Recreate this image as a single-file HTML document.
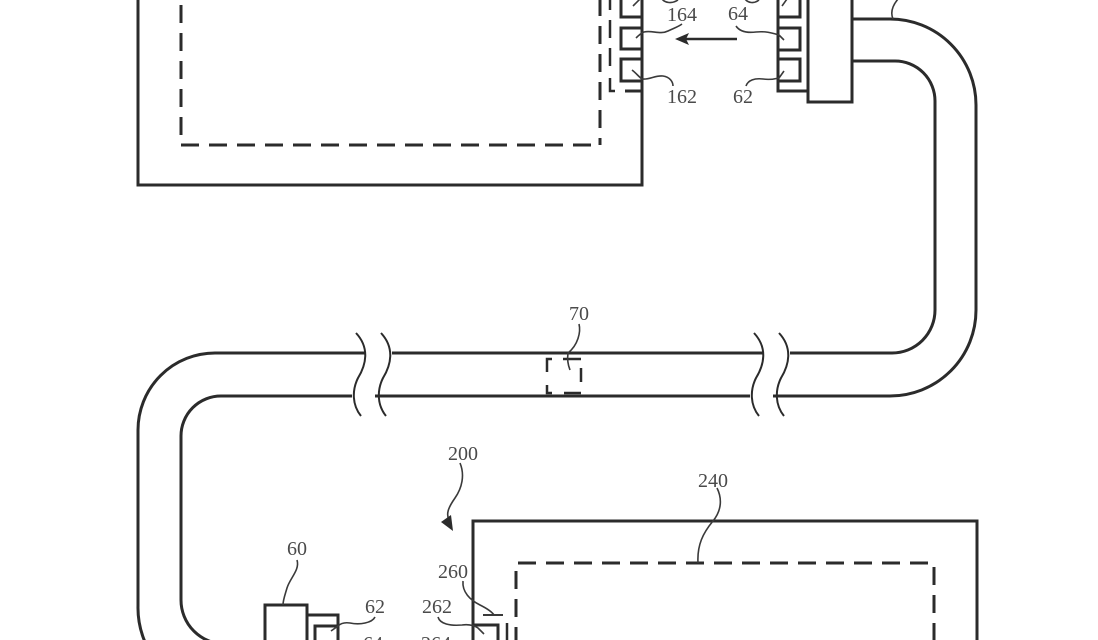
<!DOCTYPE html>
<html>
<head>
<meta charset="utf-8">
<style>
  html,body{margin:0;padding:0;background:#fff;}
  svg{display:block;}
  text{font-family:"Liberation Serif",serif;font-size:20px;fill:#4a4a4a;text-anchor:middle;}
</style>
</head>
<body>
<svg width="1098" height="640" viewBox="0 0 1098 640" xmlns="http://www.w3.org/2000/svg">
  <rect width="1098" height="640" fill="#fff"/>
  <g fill="none" stroke="#2b2b2b" stroke-width="3" stroke-linejoin="miter">
    <!-- Top device outer box -->
    <path d="M138,-5 L138,185 L642,185 L642,-5"/>
    <!-- Top device squares 162/164 -->
    <rect x="621" y="-4" width="21" height="21"/>
    <rect x="621" y="28" width="21" height="21"/>
    <rect x="621" y="59" width="21" height="22"/>
    <path d="M625,91 L642,91"/>
    <!-- Top connector 60 -->
    <path d="M808,-5 L808,102 L852,102 L852,-5"/>
    <path d="M778,-5 L778,91 L808,91"/>
    <rect x="778" y="-4" width="22" height="21"/>
    <rect x="778" y="28" width="22" height="22"/>
    <rect x="778" y="59" width="22" height="22"/>
    <!-- Cable outer path (top-right to mid lower line) -->
    <path d="M852,19 L890,19 A86,86 0 0 1 976,105 L976,310 A86,86 0 0 1 890,396 L773,396"/>
    <path d="M750,396 L375,396"/>
    <path d="M352,396 L221,396 A40,40 0 0 0 181,436 L181,600 A44,44 0 0 0 225,644"/>
    <!-- Cable inner path -->
    <path d="M852,61 L895,61 A40,40 0 0 1 935,101 L935,310 A43,43 0 0 1 892,353 L790,353"/>
    <path d="M764,353 L392,353"/>
    <path d="M366,353 L215,353 A77,77 0 0 0 138,430 L138,606 A86,86 0 0 0 145,642"/>
    <!-- Bottom device -->
    <path d="M473,645 L473,521 L977,521 L977,645"/>
    <path d="M473,645 L473,625 L498,625 L498,645"/>
    <!-- Bottom connector 60 -->
    <path d="M265,645 L265,605 L307,605 L307,645"/>
    <path d="M307,615 L338,615 L338,645"/>
    <path d="M315,645 L315,626 L337,626"/>
  </g>

  <!-- Break marks -->
  <g fill="none" stroke="#2b2b2b" stroke-width="2">
    <path d="M356,333 C370,348 366,365 358,378 C352,390 352,405 361,416"/>
    <path d="M381,333 C395,348 391,365 383,378 C377,390 377,405 386,416"/>
    <path d="M754,333 C768,348 764,365 756,378 C750,390 750,405 759,416"/>
    <path d="M779,333 C793,348 789,365 781,378 C775,390 775,405 784,416"/>
  </g>

  <!-- Dashed lines -->
  <g fill="none" stroke="#2b2b2b" stroke-width="3" stroke-dasharray="18 10">
    <path d="M181,5 L181,136"/>
    <path d="M181,145 L600,145"/>
    <path d="M600,-2 L600,145"/>
    <path d="M516,645 L516,563 L934,563 L934,645"/>
  </g>
  <g fill="none" stroke="#2b2b2b" stroke-width="3">
    <!-- top second dashed line with L -->
    <path d="M610,-2 L610,10 M610,20 L610,38 M610,48 L610,66 M610,78 L610,91 L615,91" stroke-width="2.5"/>
    <!-- bottom dashed vertical -->
    <path d="M507,623 L507,645" stroke-width="2.5"/>
    <!-- 70 dashed box -->
    <path d="M552,359 L547,359 L547,372" stroke-width="2.5"/>
    <path d="M563,359 L581,359" stroke-width="2.5"/>
    <path d="M581,368 L581,382" stroke-width="2.5"/>
    <path d="M547,385 L547,393 L552,393" stroke-width="2.5"/>
    <path d="M564,393 L581,393" stroke-width="2.5"/>
  </g>

  <!-- Arrow top -->
  <path d="M737,39 L686,39" stroke="#2b2b2b" stroke-width="2.5" fill="none"/>
  <polygon points="675,39 689,33 686,39 689,45" fill="#2b2b2b"/>

  <!-- Leaders -->
  <g fill="none" stroke="#3a3a3a" stroke-width="1.6">
    <path d="M636,38 C639,35 641,33 644,32 C652,30 660,35 668,31 C674,28 678,27 682,24"/>
    <path d="M632,70 C636,73 639,77 642,79 C650,80 655,75 663,76 C670,77 673,82 673,86"/>
    <path d="M736,26 C740,32 748,33 756,32 C766,31 772,33 779,35 L784,40"/>
    <path d="M746,86 C748,80 755,78 763,79 C770,80 775,79 779,78 L784,71"/>
    <path d="M579,324 C581,332 578,345 568,353 C567,360 568,365 570,370"/>
    <path d="M297,560 C300,570 290,578 287,588 C285,595 283,600 283,605"/>
    <path d="M375,617 C372,623 360,625 350,623 C343,622 340,624 338,626 L331,631"/>
    <path d="M438,617 C440,624 450,626 462,625 C470,624 475,626 478,628 L484,634"/>
    <path d="M463,581 C462,592 470,600 480,605 C488,609 492,612 494,615"/>
    <path d="M483,615 L503,615" stroke-width="2"/>
    <path d="M717,488 C722,498 722,510 713,521 C703,533 697,545 698,563"/>
    <path d="M460,463 C465,475 462,488 455,498 C448,508 446,514 449,520"/>
    <!-- partial leaders at top edge -->
    <path d="M633,6 L640,-1"/>
    <path d="M782,6 L787,-1"/>
    <path d="M893,19 C890,12 893,5 898,-1"/>
    <path d="M662,-1 C665,3 672,4 678,0"/>
    <path d="M745,-1 C748,3 754,4 759,0"/>
  </g>
  <polygon points="453,531 441,522 451,515" fill="#2b2b2b"/>

  <!-- Labels -->
  <text x="682" y="21">164</text>
  <text x="738" y="20">64</text>
  <text x="682" y="103">162</text>
  <text x="743" y="103">62</text>
  <text x="579" y="320">70</text>
  <text x="463" y="460">200</text>
  <text x="713" y="487">240</text>
  <text x="297" y="555">60</text>
  <text x="453" y="578">260</text>
  <text x="375" y="613">62</text>
  <text x="437" y="613">262</text>
  <text x="373" y="650">64</text>
  <text x="436" y="650">264</text>
</svg>
</body>
</html>
